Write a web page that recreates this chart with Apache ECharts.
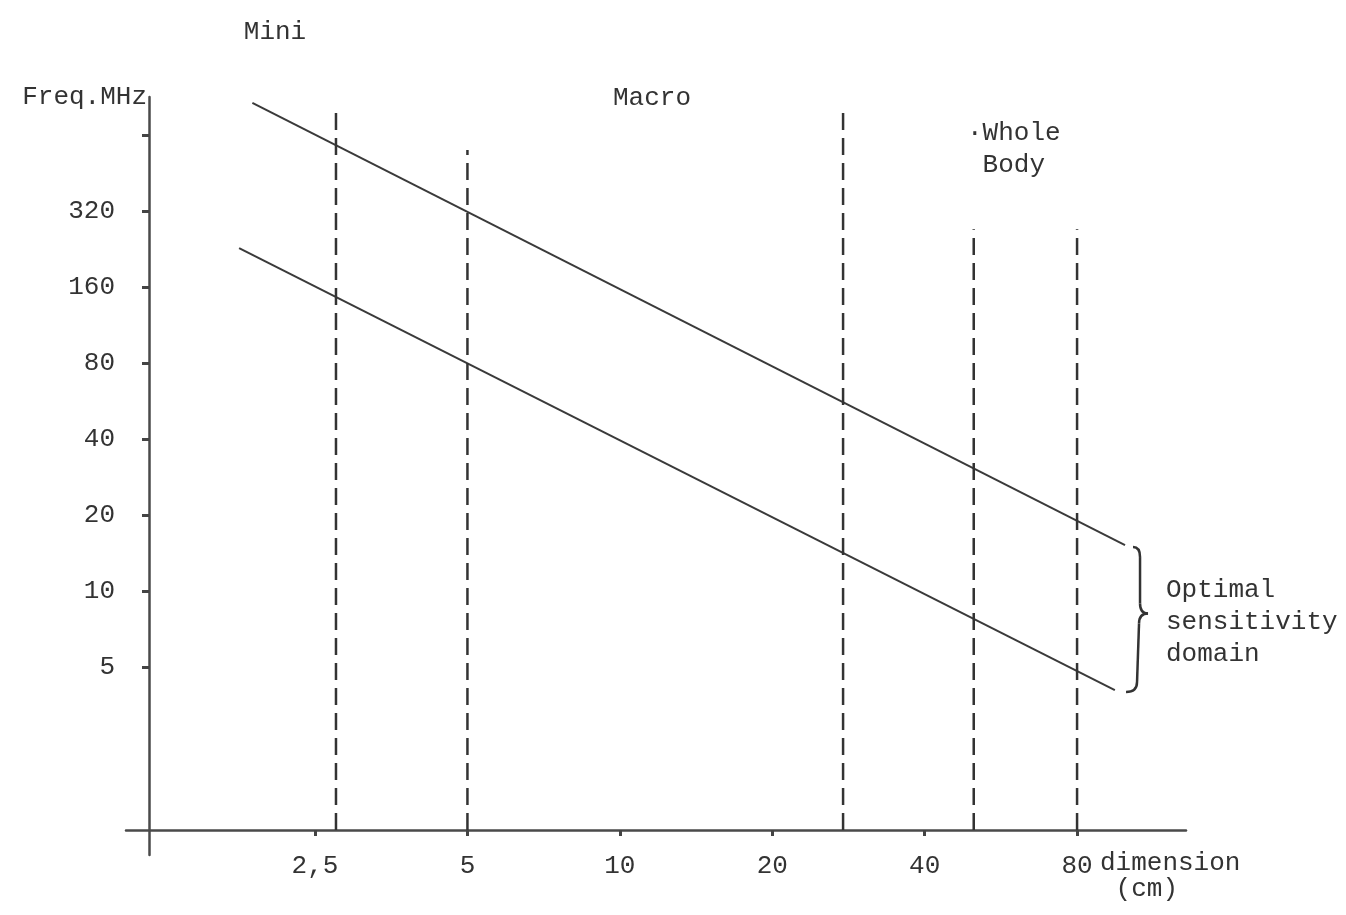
<!DOCTYPE html>
<html>
<head>
<meta charset="utf-8">
<title>Freq vs dimension</title>
<script src="https://cdn.jsdelivr.net/npm/echarts@6/dist/echarts.min.js"></script>
<style>
  html, body { margin: 0; padding: 0; background: #fff; }
  #chart { width: 1346px; height: 915px; }
</style>
</head>
<body>
<div id="chart"></div>
<script>
// axis ticks (cm / MHz) and the text printed at them
const dimTicks = [2.5, 5, 10, 20, 40, 80];
const dimTickLabels = ['2,5', '5', '10', '20', '40', '80'];
const freqTicks = [5, 10, 20, 40, 80, 160, 320, 640];
const freqTickLabels = ['5', '10', '20', '40', '80', '160', '320', ''];

// limits of the optimal sensitivity domain, [dimension cm, freq MHz]
const upperLimit = [[1.88, 857], [99.5, 15.2]];
const lowerLimit = [[1.77, 228], [95, 4.05]];

// dashed boundaries between Mini / Macro / Whole Body
const boundaryDim = [2.75, 5, 27.6, 50, 80];
const boundaryTop = [818, 558, 826, 271, 271];

// where the two axes cross
const crossDim = 1.175;
const crossFreq = 1.13;

// both scales are logarithmic (one doubling per unit)
const lx = d => Math.log2(d / crossDim);
const ly = f => Math.log2(f / crossFreq);

const FONT = '"Liberation Mono", "DejaVu Sans Mono", monospace';
const INK = '#333';

function tickText(v, vals, labels) {
  for (let i = 0; i < vals.length; i++) {
    if (Math.abs(vals[i] - v) < 1e-6) return labels[i];
  }
  return '';
}

const xTickVals = dimTicks.map(lx);
const yTickVals = freqTicks.map(ly);

const chart = echarts.init(document.getElementById('chart'));

const solid = { color: '#3a3a3a', width: 2 };
const dashed = { color: '#333', width: 2.5, type: [17, 8] };

const series = [
  { type: 'line', data: upperLimit.map(p => [lx(p[0]), ly(p[1])]), symbol: 'none', lineStyle: solid, silent: true },
  { type: 'line', data: lowerLimit.map(p => [lx(p[0]), ly(p[1])]), symbol: 'none', lineStyle: solid, silent: true }
];
boundaryDim.forEach((d, i) => {
  series.push({
    type: 'line',
    data: [[lx(d), 0], [lx(d), ly(boundaryTop[i])]],
    symbol: 'none',
    lineStyle: dashed,
    silent: true
  });
});

const option = {
  animation: false,
  backgroundColor: '#fff',
  grid: { left: 126, right: 160, top: 97, bottom: 60, containLabel: false, outerBoundsMode: 'none' },
  xAxis: {
    type: 'value',
    min: -0.151,
    max: 6.804,
    name: 'dimension\n (cm)',
    nameLocation: 'end',
    nameGap: -86,
    nameMoveOverlap: false,
    nameTextStyle: { fontFamily: FONT, fontSize: 26, color: INK, align: 'left', verticalAlign: 'top', lineHeight: 26, padding: [20, 0, 0, 0] },
    axisLine: { onZero: true, lineStyle: { color: '#4a4a4a', width: 2.5 } },
    axisTick: { customValues: xTickVals, length: 6, lineStyle: { color: '#444', width: 3 } },
    axisLabel: {
      customValues: xTickVals,
      margin: -2,
      fontFamily: FONT, fontSize: 26, color: INK,
      formatter: v => tickText(v, xTickVals, dimTickLabels)
    },
    splitLine: { show: false }
  },
  yAxis: {
    type: 'value',
    min: -0.329,
    max: 9.645,
    name: 'Freq.MHz',
    nameLocation: 'end',
    nameGap: 0,
    nameMoveOverlap: false,
    nameTextStyle: { fontFamily: FONT, fontSize: 26, color: INK, align: 'right', verticalAlign: 'middle', padding: [0, 2, 0, 0] },
    axisLine: { onZero: true, lineStyle: { color: '#4a4a4a', width: 2.5 } },
    axisTick: { customValues: yTickVals, length: 7, lineStyle: { color: '#444', width: 3 } },
    axisLabel: {
      customValues: yTickVals,
      margin: 11,
      fontFamily: FONT, fontSize: 26, color: INK,
      formatter: v => tickText(v, yTickVals, freqTickLabels)
    },
    splitLine: { show: false }
  },
  series: series
};

option && chart.setOption(option);

// annotations: class names, and the brace that marks the domain
const txt = (x, y, text, align) => ({
  type: 'text', x: x, y: y, silent: true,
  style: { text: text, font: '26px ' + FONT, fill: INK, align: align || 'left', verticalAlign: 'middle', lineHeight: 32 }
});

const upEnd = chart.convertToPixel({ gridIndex: 0 }, [lx(upperLimit[1][0]), ly(upperLimit[1][1])]);
const loEnd = chart.convertToPixel({ gridIndex: 0 }, [lx(lowerLimit[1][0]), ly(lowerLimit[1][1])]);
const bx = Math.max(upEnd[0], loEnd[0]) + 15;
const yTop = upEnd[1] + 2;
const yBot = loEnd[1] + 2;
const yMid = (yTop + yBot) / 2 - 6;
const braceStyle = { stroke: INK, lineWidth: 2.5, fill: null };
const curve = (x1, y1, cx, cy, x2, y2) => ({ type: 'bezierCurve', silent: true, shape: { x1: x1, y1: y1, cpx1: cx, cpy1: cy, x2: x2, y2: y2 }, style: braceStyle });
const seg = (x1, y1, x2, y2) => ({ type: 'line', silent: true, shape: { x1: x1, y1: y1, x2: x2, y2: y2 }, style: braceStyle });

chart.setOption({
  graphic: [
    txt(275, 32, 'Mini', 'center'),
    txt(652, 98, 'Macro', 'center'),
    txt(967, 149, '\u00b7Whole\n Body'),
    txt(1166, 622, 'Optimal\nsensitivity\ndomain'),
    curve(bx - 7, yTop, bx, yTop, bx, yTop + 10),
    seg(bx, yTop + 10, bx, yMid - 10),
    curve(bx, yMid - 10, bx, yMid, bx + 8, yMid),
    curve(bx + 8, yMid, bx - 1, yMid, bx - 1, yMid + 10),
    seg(bx - 1, yMid + 10, bx - 3, yBot - 10),
    curve(bx - 3, yBot - 10, bx - 3, yBot, bx - 14, yBot)
  ]
});
</script>
</body>
</html>
